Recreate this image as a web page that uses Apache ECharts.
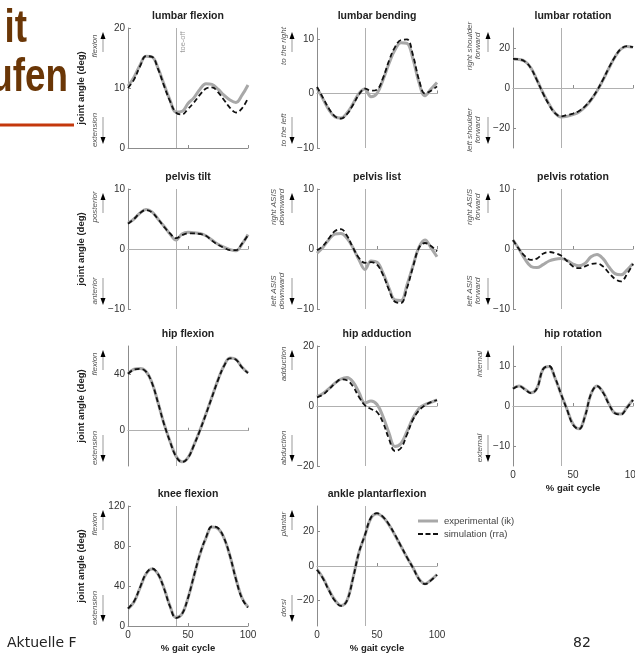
<!DOCTYPE html>
<html><head><meta charset="utf-8">
<script src="https://cdn.jsdelivr.net/npm/echarts@6/dist/echarts.min.js"></script>
<style>html,body{margin:0;padding:0;background:#fff}#c{width:635px;height:657px}</style>
</head><body><div id="c"></div>
<script>
// ---- data ----
const pct = [0,5,10,15,20,25,30,35,40,45,50,55,60,65,70,75,80,85,90,95,100];

const lumbarFlexionExp  = [10.3,11.8,13.8,15.3,15.2,13.3,10.6,8.0,6.0,6.1,7.4,8.4,9.8,10.7,10.6,9.8,8.8,8.0,7.6,8.8,10.5];
const lumbarFlexionSim  = [10.0,11.4,13.6,15.3,15.2,13.2,10.4,7.8,5.9,5.6,6.5,7.6,8.9,9.9,10.1,9.3,8.0,6.7,5.9,6.6,8.3];
const lumbarBendingExp  = [1.0,-1.0,-3.0,-4.3,-4.5,-3.6,-1.9,0.0,0.8,-0.6,0.0,2.5,5.5,8.0,9.3,9.2,6.3,2.0,-0.4,0.8,2.0];
const lumbarBendingSim  = [1.2,-0.8,-2.8,-4.2,-4.6,-3.8,-2.1,-0.2,0.9,0.5,0.7,2.8,6.0,8.5,9.8,9.9,7.0,2.5,0.0,0.5,1.3];
const lumbarRotationExp = [14.5,14.3,13.3,10.0,4.0,-2.5,-8.0,-12.5,-14.5,-14.2,-13.3,-12.0,-9.5,-6.0,-1.5,4.0,10.0,15.5,19.5,20.8,20.3];
const lumbarRotationSim = [14.6,14.4,13.2,9.8,3.8,-2.7,-8.3,-12.6,-14.2,-13.5,-12.8,-11.5,-9.2,-5.8,-1.3,4.2,10.2,15.6,19.6,20.9,20.4];
const pelvisTiltExp     = [4.3,5.0,6.0,6.6,6.2,5.0,3.8,2.5,1.5,2.5,2.8,2.7,2.6,2.2,1.5,0.8,0.3,-0.1,-0.3,0.8,2.4];
const pelvisTiltSim     = [4.2,5.0,6.0,6.5,6.1,5.0,3.7,2.6,1.8,2.3,2.6,2.6,2.5,2.2,1.4,0.7,0.2,-0.2,-0.2,0.9,2.3];
const pelvisListExp     = [-0.7,0.3,1.6,2.5,2.6,1.8,0.2,-1.8,-3.4,-2.0,-2.2,-4.0,-6.5,-8.5,-8.6,-6.0,-2.8,0.3,1.5,0.2,-1.3];
const pelvisListSim     = [-0.2,0.5,1.8,3.0,3.3,2.2,0.2,-1.5,-2.3,-2.2,-2.6,-4.3,-6.8,-8.8,-9.0,-6.5,-3.0,0.2,1.0,0.5,-0.4];
const pelvisRotationExp = [1.5,0.0,-1.7,-2.9,-3.1,-2.6,-2.0,-1.7,-1.6,-1.9,-2.5,-2.8,-2.4,-1.3,-0.9,-1.6,-3.0,-4.1,-4.3,-3.5,-2.4];
const pelvisRotationSim = [1.5,0.0,-1.2,-1.8,-1.6,-0.8,-0.5,-0.7,-1.1,-2.0,-2.9,-3.2,-2.9,-2.5,-2.4,-2.9,-4.0,-5.0,-5.4,-4.2,-2.5];
const hipFlexionExp     = [40.5,43.5,44.0,42.0,34.0,20.0,5.0,-7.5,-18.0,-22.0,-19.0,-10.0,0.5,12.0,24.0,36.0,46.0,51.5,50.5,45.0,41.0];
const hipFlexionSim     = [40.3,43.3,43.8,41.8,33.8,19.8,4.8,-7.7,-18.2,-22.2,-19.2,-10.2,0.3,11.8,23.8,35.8,45.8,51.3,50.3,44.8,40.8];
const hipAdductionExp   = [3.2,4.2,5.8,7.6,9.0,9.5,8.0,4.5,1.0,1.7,0.5,-3.5,-9.0,-13.5,-12.5,-8.5,-4.0,-0.8,0.5,1.2,2.0];
const hipAdductionSim   = [2.9,3.8,5.6,7.5,8.9,8.6,6.5,3.0,0.2,-1.0,-2.0,-5.5,-11.0,-15.0,-14.0,-9.5,-4.5,-1.5,0.2,1.3,2.0];
const hipRotationExp    = [4.4,5.0,4.2,3.3,4.5,9.2,9.9,7.0,3.0,-0.8,-4.5,-5.7,-2.5,3.0,5.0,3.5,0.5,-1.8,-2.0,-0.3,1.6];
const hipRotationSim    = [4.3,5.0,4.1,3.2,4.4,9.2,10.0,7.1,3.0,-0.9,-4.7,-5.8,-2.6,3.0,5.0,3.4,0.4,-1.8,-2.1,-0.4,1.5];
const kneeFlexionExp    = [17,24,38,52,57,52,38,20,8.5,12,28,50,72,88,99,97.5,88,70,47,28,19];
const kneeFlexionSim    = [17.5,24.5,38.5,52.5,57.5,52,37.5,19.5,8,12,28,50.5,72,88.5,99.5,98,88,70,46.5,27.5,18.5];
const anklePlantarExp   = [-2,-7,-14,-20,-23,-20,-7,8,18,28,30.5,28.5,24,18,11.5,5,-1,-7.5,-10.4,-8.2,-5];
const anklePlantarSim   = [-2.2,-7.3,-14.3,-20.3,-23.3,-20.2,-7.2,8,18.2,28.3,30.8,28.7,24.2,18.2,11.6,5,-1.1,-7.7,-10.6,-8.4,-5.1];

const panelTitles = ['lumbar flexion','lumbar bending','lumbar rotation','pelvis tilt','pelvis list','pelvis rotation','hip flexion','hip adduction','hip rotation','knee flexion','ankle plantarflexion'];
const expSeries = [lumbarFlexionExp,lumbarBendingExp,lumbarRotationExp,pelvisTiltExp,pelvisListExp,pelvisRotationExp,hipFlexionExp,hipAdductionExp,hipRotationExp,kneeFlexionExp,anklePlantarExp];
const simSeries = [lumbarFlexionSim,lumbarBendingSim,lumbarRotationSim,pelvisTiltSim,pelvisListSim,pelvisRotationSim,hipFlexionSim,hipAdductionSim,hipRotationSim,kneeFlexionSim,anklePlantarSim];
const yMin = [0,-10,-30,-10,-10,-10,-25,-20,-15,0,-35];
const yMax = [20,12,30,10,10,10,60,20,15,120,35];
const yTickLabels = [[0,10,20],[-10,0,10],[-20,0,20],[-10,0,10],[-10,0,10],[-10,0,10],[0,40],[-20,0,20],[-10,0,10],[0,40,80,120],[-20,0,20]];
const xTickLabels = [0,50,100];
const toeOff = 40;
const upLabels = ['flexion','to the right','right shoulder\nforward','posterior','right ASIS\ndownward','right ASIS\nforward','flexion','adduction','internal','flexion','plantar'];
const downLabels = ['extension','to the left','left shoulder\nforward','anterior','left ASIS\ndownward','left ASIS\nforward','extension','abduction','external','extension','dorsi'];
const showXLabels = [false,false,false,false,false,false,false,false,true,true,true];
const seriesNames = ['experimental (ik)','simulation (rra)'];

// ---- layout ----
const colLeft = [128,317,513];
const rowTop = [28,189,346,506];
const plotW = 120, plotH = 120;
const FONT = '"Liberation Sans", Arial, Helvetica, sans-serif';
const minusFmt = v => String(v).replace('-', '\u2212');

const grids = [], xAxes = [], yAxes = [], series = [], graphics = [];

panelTitles.forEach((t, i) => {
  const r = Math.floor(i / 3), c = i % 3;
  const L = colLeft[c], T = rowTop[r];
  grids.push({left: L, top: T, width: plotW, height: plotH, outerBoundsMode: 'none', containLabel: false});
  xAxes.push({
    type: 'value', gridIndex: i, min: 0, max: 100,
    axisLine: {show: true, lineStyle: {color: '#8c8c8c', width: 1}},
    axisTick: {show: true, inside: true, length: 3, customValues: xTickLabels, lineStyle: {color: '#8c8c8c'}},
    axisLabel: {show: showXLabels[i], customValues: xTickLabels, margin: 4, fontSize: 10, color: '#333', fontFamily: FONT},
    splitLine: {show: false}
  });
  yAxes.push({
    type: 'value', gridIndex: i, min: yMin[i], max: yMax[i],
    axisLine: {show: true, onZero: false, lineStyle: {color: '#8c8c8c', width: 1}},
    axisTick: {show: true, inside: true, length: 3, customValues: yTickLabels[i], lineStyle: {color: '#8c8c8c'}},
    axisLabel: {show: true, customValues: yTickLabels[i], margin: 3, fontSize: 10, color: '#333', fontFamily: FONT, formatter: minusFmt},
    splitLine: {show: false}
  });
  const refLines = [{xAxis: toeOff}];
  if (yMin[i] < 0) refLines.push({yAxis: 0});
  series.push({
    type: 'line', name: seriesNames[0], xAxisIndex: i, yAxisIndex: i,
    data: pct.map((p, j) => [p, expSeries[i][j]]),
    symbol: 'none', smooth: 0.4, z: 2,
    lineStyle: {color: '#a8a8a8', width: 3},
    itemStyle: {color: '#a8a8a8'},
    markLine: {silent: true, symbol: ['none','none'], z: 1, label: {show: false},
      lineStyle: {color: '#b0b0b0', width: 1, type: 'solid'}, data: refLines, animation: false}
  });
  series.push({
    type: 'line', name: seriesNames[1], xAxisIndex: i, yAxisIndex: i,
    data: pct.map((p, j) => [p, simSeries[i][j]]),
    symbol: 'none', smooth: 0.4, z: 3,
    lineStyle: {color: '#111', width: 1.8, type: [5, 3]},
    itemStyle: {color: '#111'}
  });

  // title
  graphics.push({type: 'text', x: L + plotW / 2, y: T - 12,
    style: {text: t, align: 'center', verticalAlign: 'middle', fontSize: 10.5, fontWeight: 'bold', fontFamily: FONT, fill: '#222'}});
  // direction labels + arrows
  const two = upLabels[i].indexOf('\n') >= 0 || downLabels[i].indexOf('\n') >= 0;
  const tx = L - (two ? 39 : 33);
  const ax = L - 25;
  [[upLabels[i], T + 18], [downLabels[i], T + plotH - 18]].forEach(([txt, cy]) => {
    graphics.push({type: 'text', x: tx, y: cy, rotation: Math.PI / 2,
      style: {text: txt, align: 'center', verticalAlign: 'middle', fontSize: 8, fontStyle: 'italic', fontFamily: FONT, fill: '#555', lineHeight: 8}});
  });
  graphics.push({type: 'line', shape: {x1: ax, y1: T + 24, x2: ax, y2: T + 9}, style: {stroke: '#999', lineWidth: 1}});
  graphics.push({type: 'polygon', shape: {points: [[ax - 2.5, T + 11], [ax + 2.5, T + 11], [ax, T + 4]]}, style: {fill: '#000'}});
  const B = T + plotH;
  graphics.push({type: 'line', shape: {x1: ax, y1: B - 31, x2: ax, y2: B - 9}, style: {stroke: '#999', lineWidth: 1}});
  graphics.push({type: 'polygon', shape: {points: [[ax - 2.5, B - 11], [ax + 2.5, B - 11], [ax, B - 4]]}, style: {fill: '#000'}});

  if (c === 0) {
    graphics.push({type: 'text', x: 81, y: T + plotH / 2, rotation: Math.PI / 2,
      style: {text: 'joint angle (deg)', align: 'center', verticalAlign: 'middle', fontSize: 9.5, fontWeight: 'bold', fontFamily: FONT, fill: '#222'}});
  }
  if (showXLabels[i]) {
    graphics.push({type: 'text', x: L + plotW / 2, y: T + plotH + 22,
      style: {text: '% gait cycle', align: 'center', verticalAlign: 'middle', fontSize: 9.5, fontWeight: 'bold', fontFamily: FONT, fill: '#222'}});
  }
});

// toe-off label
graphics.push({type: 'text', x: colLeft[0] + plotW * toeOff / 100 + 7, y: rowTop[0] + 14, rotation: Math.PI / 2,
  style: {text: 'toe-off', align: 'center', verticalAlign: 'middle', fontSize: 7.5, fontFamily: FONT, fill: '#999'}});

// slide remnants
graphics.push({type: 'text', x: 27, y: 29, scaleX: 0.8,
  style: {text: 'it', align: 'right', verticalAlign: 'middle', fontSize: 46, fontWeight: 'bold', fontFamily: FONT, fill: '#6a3606'}});
graphics.push({type: 'text', x: 68, y: 78, scaleX: 0.8,
  style: {text: 'ufen', align: 'right', verticalAlign: 'middle', fontSize: 46, fontWeight: 'bold', fontFamily: FONT, fill: '#6a3606'}});
graphics.push({type: 'rect', shape: {x: 0, y: 123.5, width: 74, height: 3}, style: {fill: '#c4380c'}});
graphics.push({type: 'text', x: 7, y: 643,
  style: {text: 'Aktuelle F', align: 'left', verticalAlign: 'middle', fontSize: 14, fontFamily: '"DejaVu Sans", Verdana, sans-serif', fill: '#222'}});
graphics.push({type: 'text', x: 573, y: 643,
  style: {text: '82', align: 'left', verticalAlign: 'middle', fontSize: 14, fontFamily: '"DejaVu Sans", Verdana, sans-serif', fill: '#222'}});

const chart = echarts.init(document.getElementById('c'), null, {renderer: 'canvas'});
chart.setOption({
  animation: false,
  backgroundColor: '#fff',
  grid: grids, xAxis: xAxes, yAxis: yAxes, series: series,
  legend: {
    data: [
      {name: seriesNames[0], icon: 'rect'},
      {name: seriesNames[1], icon: 'path://M0,0 H5 V2 H0 Z M7.5,0 H12.5 V2 H7.5 Z M15,0 H20 V2 H15 Z'}
    ],
    left: 413, top: 511, orient: 'vertical',
    itemWidth: 20, itemHeight: 3, itemGap: 3,
    textStyle: {fontSize: 9.5, color: '#444', fontFamily: FONT, padding: [0, 0, 0, 1]}
  },
  graphic: graphics
});
</script></body></html>
